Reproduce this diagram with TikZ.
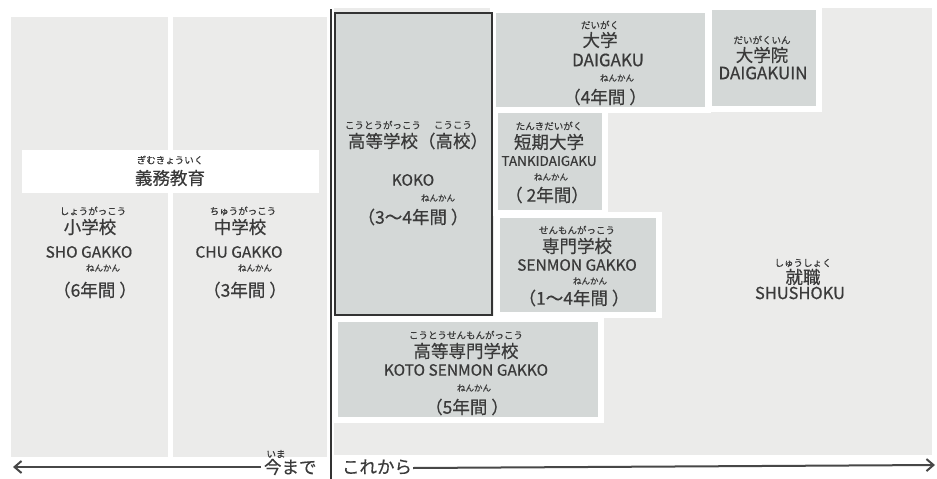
\documentclass[tikz,border=0pt]{standalone}
\usepackage{fontspec}
\setmainfont{Noto Sans CJK JP}[FakeBold=0.5]
\usetikzlibrary{arrows.meta}
\definecolor{bgc}{HTML}{EBEBEA}
\definecolor{boxc}{HTML}{D4D8D7}
\definecolor{txt}{HTML}{3A3A3A}
\definecolor{linec}{HTML}{333333}
\newcommand\fsRuby{\fontsize{9.5}{10}\selectfont}
\newcommand\fsMain{\fontsize{17.5}{18}\selectfont}
\newcommand\fsLat{\fontsize{15.5}{16}\selectfont}
\newcommand\fsLatB{\fontsize{17}{17}\selectfont}
\newcommand\fsNen{\fontsize{8.5}{9}\selectfont}
\newcommand\fsYear{\fontsize{17.5}{18}\selectfont}
\begin{document}
\begin{tikzpicture}[x=1pt,y=-1pt,
  every node/.style={text=txt, inner sep=0pt, outer sep=0pt},
  panel/.style={fill=bgc, draw=none, anchor=north west},
  box/.style={fill=boxc, draw=white, line width=6pt, anchor=north west},
  ruby/.style={font=\fsRuby},
  kanji/.style={font=\fsMain},
  latin/.style={font=\fsLat},
  latinb/.style={font=\fsLatB},
  nen/.style={font=\fsNen},
  years/.style={font=\fsYear},
  timearrow/.style={draw=linec!90, line width=2pt, -{Straight Barb[length=7pt,width=12pt,line width=2pt]}}
]
\useasboundingbox (0,0) rectangle (937,479);
\fill[white] (0,0) rectangle (937,479);
% background panels
\node[panel, minimum width=157pt, minimum height=440pt] (shop) at (11,17) {};
\node[panel, minimum width=154pt, minimum height=440pt] (chup) at (173,17) {};
\node[panel, minimum width=598pt, minimum height=447pt] (rightp) at (334,8) {};
% white band
\node[fill=white, anchor=north west, minimum width=297pt, minimum height=43pt] (band) at (22,150) {};
% boxes
\node[box, minimum width=215pt, minimum height=100pt] (daigaku) at (493,10) {};
\node[box, minimum width=110pt, minimum height=102pt] (daigakuin) at (709,7) {};
\node[box, minimum width=110pt, minimum height=103pt] (tanki) at (495,110) {};
\node[box, minimum width=162pt, minimum height=100pt] (senmon) at (497,215) {};
\node[box, minimum width=266pt, minimum height=101pt] (koto) at (335,319) {};
\node[fill=boxc, draw=linec, line width=1.6pt, anchor=north west, minimum width=157pt, minimum height=302pt] (koko) at (335,13) {};
% vertical divider
\coordinate (vtop) at (330.5,9);
\coordinate (vbot) at (330.5,479);
\draw[linec, line width=2pt] (vtop) -- (vbot);
% gimu kyoiku
\node[ruby] (gimur) at (170,160) {ぎむきょういく};
\node[kanji] (gimu) at (170,178) {義務教育};
% sho
\node[ruby] (shor) at (93,211) {しょうがっこう};
\node[kanji] (shok) at (90,227) {小学校};
\node[latin] (shol) at (89,252) {SHO GAKKO};
\node[nen] (shon) at (103,268) {ねんかん};
\node[years] (shoy) at (95,290) {（6年間 ）};
% chu
\node[ruby] (chur) at (243,211) {ちゅうがっこう};
\node[kanji] (chuk) at (240,227) {中学校};
\node[latin] (chul) at (239,252) {CHU GAKKO};
\node[nen] (chun) at (255,268) {ねんかん};
\node[years] (chuy) at (245,290) {（3年間 ）};
% koko
\node[ruby] (kokor1) at (383,125) {こうとうがっこう};
\node[ruby] (kokor2) at (453,125) {こうこう};
\node[kanji] (kokok) at (418,141) {高等学校（高校）};
\node[latin] (kokol) at (413,180) {KOKO};
\node[nen] (kokon) at (438,198) {ねんかん};
\node[years] (kokoy) at (413,217) {（3～4年間 ）};
% daigaku
\node[ruby] (dair) at (600,25) {だいがく};
\node[kanji] (daik) at (600,40) {大学};
\node[latinb] (dail) at (608,60) {DAIGAKU};
\node[nen] (dain) at (617,78) {ねんかん};
\node[years] (daiy) at (605,97) {（4年間 ）};
% daigakuin
\node[ruby] (inr) at (762,40) {だいがくいん};
\node[kanji] (ink) at (762,55) {大学院};
\node[latinb] (inl) at (763,73) {DAIGAKUIN};
% tanki
\node[ruby] (tanr) at (549,126) {たんきだいがく};
\node[kanji] (tank) at (549,142) {短期大学};
\node[latin, font=\fontsize{13.5}{14}\selectfont] (tanl) at (549,161) {TANKIDAIGAKU};
\node[nen] (tann) at (551,177) {ねんかん};
\node[years] (tany) at (547,195) {（ 2年間）};
% senmon
\node[ruby] (senr) at (577,230) {せんもんがっこう};
\node[kanji] (senk) at (577,246) {専門学校};
\node[latin] (senl) at (577,265) {SENMON GAKKO};
\node[nen] (senn) at (590,281) {ねんかん};
\node[years] (seny) at (574,298) {（1～4年間 ）};
% koto senmon
\node[ruby] (kotor) at (466,335) {こうとうせんもんがっこう};
\node[kanji] (kotok) at (466,351) {高等専門学校};
\node[latin] (kotol) at (466,370) {KOTO SENMON GAKKO};
\node[nen] (koton) at (474,388) {ねんかん};
\node[years] (kotoy) at (467,407) {（5年間 ）};
% shushoku
\node[ruby] (shur) at (803,263) {しゅうしょく};
\node[kanji] (shuk) at (803,277) {就職};
\node[latin, font=\fontsize{16.5}{17}\selectfont] (shul) at (800,293) {SHUSHOKU};
% time line
\node[ruby] (imar) at (276,454) {いま};
\node[kanji, anchor=west] (imamade) at (264,467) {今まで};
\node[kanji, anchor=west] (korekara) at (342,467) {これから};
\coordinate (lend) at (13,467);
\coordinate (rend) at (935,465);
\draw[timearrow] ([xshift=-3pt]imamade.west) -- (lend);
\draw[timearrow] ([xshift=1pt,yshift=-1pt]korekara.east) -- (rend);
\end{tikzpicture}
\end{document}
